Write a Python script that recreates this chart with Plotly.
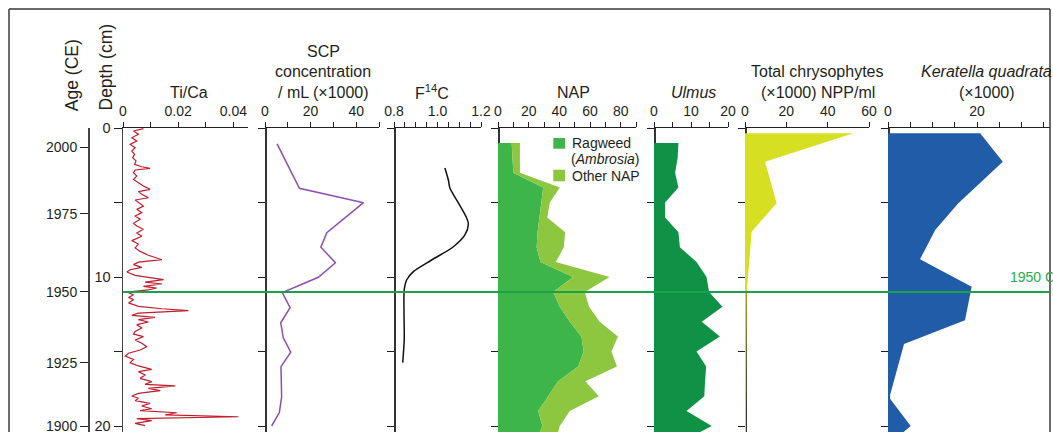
import plotly.graph_objects as go

W, H = 1053, 432
TOP = 128
PX_PER_CM = 14.9
DEPTH_MAX = (H - TOP) / PX_PER_CM
FONT = "Liberation Sans, Arial, sans-serif"
INK = "#231f20"

# ---------------- data ----------------
tica_depth = [0.04, 0.20, 0.42, 0.65, 0.87, 1.10, 1.32, 1.54, 1.77, 1.99, 2.21, 2.44, 2.60, 2.71, 2.82,
              3.00, 3.22, 3.45, 3.67, 3.89, 4.12, 4.27, 4.45, 4.68, 4.83, 5.01, 5.24, 5.46, 5.68, 5.91,
              6.13, 6.40, 6.58, 6.80, 7.05, 7.27, 7.56, 7.79, 8.05, 8.28, 8.54, 8.84, 9.00, 9.17, 9.35,
              9.51, 9.66, 9.89, 10.07, 10.18, 10.34, 10.47, 10.63, 10.74, 10.87, 11.01, 11.19, 11.37,
              11.52, 11.74, 11.97, 12.13, 12.26, 12.42, 12.57, 12.71, 12.86, 13.02, 13.20, 13.42, 13.65,
              13.83, 14.00, 14.23, 14.45, 14.68, 14.90, 15.12, 15.30, 15.53, 15.75, 15.97, 16.20, 16.35,
              16.58, 16.80, 17.02, 17.20, 17.31, 17.47, 17.63, 17.81, 17.99, 18.14, 18.30, 18.48, 18.66,
              18.84, 18.97, 19.11, 19.26, 19.38, 19.51, 19.64, 19.82, 19.98]
tica_value = [0.0074, 0.0038, 0.0056, 0.0032, 0.0050, 0.0026, 0.0044, 0.0032, 0.0042, 0.0035, 0.0047,
              0.0042, 0.0068, 0.0098, 0.0044, 0.0038, 0.0050, 0.0038, 0.0056, 0.0074, 0.0098, 0.0056,
              0.0068, 0.0092, 0.0044, 0.0056, 0.0074, 0.0050, 0.0068, 0.0044, 0.0062, 0.0038, 0.0050,
              0.0074, 0.0050, 0.0068, 0.0032, 0.0056, 0.0044, 0.0062, 0.0092, 0.0141, 0.0056, 0.0038,
              0.0068, 0.0026, 0.0014, 0.0044, 0.0104, 0.0147, 0.0080, 0.0141, 0.0074, 0.0122, 0.0092,
              0.0014, 0.0038, 0.0020, 0.0038, 0.0020, 0.0056, 0.0141, 0.0237, 0.0056, 0.0032, 0.0116,
              0.0056, 0.0092, 0.0050, 0.0068, 0.0044, 0.0038, 0.0074, 0.0044, 0.0068, 0.0086, 0.0062,
              0.0020, 0.0008, 0.0038, 0.0026, 0.0056, 0.0104, 0.0056, 0.0080, 0.0062, 0.0104, 0.0080,
              0.0189, 0.0092, 0.0135, 0.0056, 0.0032, 0.0056, 0.0044, 0.0098, 0.0068, 0.0104, 0.0062,
              0.0195, 0.0153, 0.0418, 0.0050, 0.0104, 0.0044, 0.0080]

scp_depth = [1.07, 4.05, 5.01, 7.03, 8.0, 9.04, 10.02, 11.05, 12.06, 13.07, 14.07, 15.05, 16.02, 18.03, 19.1, 20.0]
scp_value = [5.3, 15.1, 43.2, 27.1, 24.5, 30.9, 23.4, 7.6, 11.0, 6.9, 8.0, 11.3, 7.0, 7.3, 6.3, 2.9]

f14c_depth = [2.68, 3.49, 4.03, 5.03, 6.04, 6.44, 7.18, 7.97, 8.86, 9.64, 10.2, 10.87, 12.4, 14.2, 15.75]
f14c_value = [1.034, 1.050, 1.057, 1.096, 1.134, 1.142, 1.126, 1.073, 0.973, 0.889, 0.858, 0.847, 0.846, 0.847, 0.840]

pollen_depth = [1, 2, 3, 4, 5, 6, 7, 8, 9, 10, 11, 12, 13, 14, 15, 16, 17, 18, 19, 20, 20.4]
ragweed = [8.9, 9.5, 10.0, 29.5, 28.4, 26.9, 25.8, 25.2, 27.7, 49.0, 36.0, 40.3, 46.8, 54.4, 55.9, 52.3,
           39.2, 32.7, 26.2, 29.0, 27.3]
other_nap = [5.4, 4.8, 4.3, 10.8, 5.4, 5.2, 18.0, 17.7, 10.0, 23.8, 20.6, 19.1, 19.5, 23.8, 18.1, 25.3,
             17.8, 33.0, 20.6, 11.3, 11.9]
ulmus = [6.6, 6.4, 5.7, 6.6, 3.0, 3.0, 6.6, 7.0, 11.5, 14.2, 14.9, 18.5, 12.9, 17.8, 11.5, 14.1, 13.8,
         13.6, 8.8, 15.6, 12.5]

chrys_depth = [0.36, 2.26, 5.05, 6.96, 9.75, 11.1, 19.1, 20.4]
chrys_value = [52.4, 9.7, 15.3, 3.2, 1.6, 0.8, 0.5, 0.5]

kq_depth = [0.36, 2.26, 5.05, 6.85, 8.81, 10.65, 12.9, 14.5, 18.1, 20.0, 20.4]
kq_value = [20.7, 25.8, 15.8, 10.6, 7.2, 18.8, 17.3, 3.6, 0.3, 5.1, 3.5]

age_labels = [2000, 1975, 1950, 1925, 1900]
age_depths = [1.28, 5.77, 11.0, 15.77, 20.0]
marker_depth = 11.0

# ---------------- helpers ----------------
def fx(px):
    return px / W


def fy(py):
    return 1 - py / H


panels = [
    # name, left px, right px, range, minor tick step, label step, fmt
    ("x", 123, 248, [0, 0.0453], 0.01, 0.02, "{:g}"),
    ("x2", 265, 379, [0, 50], 10, 20, "{:g}"),
    ("x3", 394, 481, [0.8, 1.2], 0.05, 0.2, "{:.1f}"),
    ("x4", 498, 636, [0, 90], 10, 20, "{:g}"),
    ("x5", 654, 728, [0, 20], 5, 10, "{:g}"),
    ("x6", 745, 869, [0, 60], 20, 20, "{:g}"),
    ("x7", 888, 1050, [0, 36.4], 5, 20, "{:g}"),
]

fig = go.Figure()
layout = dict(
    width=W, height=H, autosize=False,
    margin=dict(l=0, r=0, t=0, b=0, pad=0),
    paper_bgcolor="white", plot_bgcolor="white",
    showlegend=False,
    font=dict(family=FONT, color=INK, size=14),
)

yr = [DEPTH_MAX, 0]
ydom = [0, fy(TOP)]

for name, l, r, rng, step, lstep, fmt in panels:
    lo, hi = rng
    n = int(round((hi - lo) / step + 1e-9))
    major_v, major_t, minor_v = [], [], []
    for i in range(n + 1):
        v = round(lo + i * step, 6)
        if v > hi + 1e-9:
            break
        k = (v - lo) / lstep
        if abs(k - round(k)) < 1e-6:
            major_v.append(v)
            major_t.append(fmt.format(v))
        else:
            minor_v.append(v)
    key = "xaxis" if name == "x" else "xaxis" + name[1:]
    layout[key] = dict(
        domain=[fx(l), fx(r)], range=rng, anchor="y", side="top", automargin=False,
        showline=True, linecolor=INK, linewidth=1.3,
        ticks="outside", ticklen=5, tickwidth=1, tickcolor=INK, tickangle=0,
        ticklabeloverflow="allow",
        tickvals=major_v, ticktext=major_t, tickfont=dict(size=14, family=FONT, color=INK),
        minor=dict(tickvals=minor_v, ticks="outside", ticklen=5, tickwidth=1, tickcolor=INK, showgrid=False),
        showgrid=False, zeroline=False, fixedrange=True,
    )

# depth axis
layout["yaxis"] = dict(
    domain=ydom, range=yr, anchor="x", side="left", automargin=False,
    showline=True, linecolor="#444", linewidth=1.5,
    ticks="outside", ticklen=8, tickwidth=1, tickcolor=INK, tickangle=0,
    ticklabeloverflow="allow",
    tickvals=[0, 10, 20], ticktext=["0", "10", "20"],
    minor=dict(tickvals=[5, 15], ticks="outside", ticklen=8, tickwidth=1, tickcolor=INK, showgrid=False),
    tickfont=dict(size=14.5, family=FONT, color=INK),
    showgrid=False, zeroline=False, fixedrange=True,
)

# panel spines
spines = [265, 394, 498, 654, 745, 888]
for i, px in enumerate(spines):
    layout["yaxis%d" % (i + 2)] = dict(
        domain=ydom, range=yr, anchor="free", overlaying="y", position=fx(px), side="left",
        automargin=False,
        showline=True, linecolor="#333", linewidth=1.5,
        ticks="outside", ticklen=7, tickwidth=1, tickcolor=INK,
        tickvals=[0, 5, 10, 15, 20], showticklabels=False,
        showgrid=False, zeroline=False, fixedrange=True,
    )

# age axis
layout["yaxis8"] = dict(
    domain=ydom, range=yr, anchor="free", overlaying="y", position=fx(88), side="left",
    automargin=False,
    showline=True, linecolor="#444", linewidth=1.5,
    ticks="outside", ticklen=8, tickwidth=1, tickcolor=INK, tickangle=0,
    ticklabeloverflow="allow",
    tickvals=age_depths, ticktext=[str(a) for a in age_labels],
    tickfont=dict(size=14, family=FONT, color=INK),
    showgrid=False, zeroline=False, fixedrange=True,
)

fig.update_layout(**layout)

# invisible helper traces so every overlaying y axis gets its own subplot
for i in range(2, 9):
    fig.add_trace(go.Scatter(x=[None], y=[None], xaxis="x", yaxis="y%d" % i, mode="lines",
                             hoverinfo="skip", showlegend=False))

# ---------------- traces ----------------
fig.add_trace(go.Scatter(x=tica_value, y=tica_depth, xaxis="x", yaxis="y", mode="lines",
                         line=dict(color="#be1e2d", width=1.2)))
fig.add_trace(go.Scatter(x=scp_value, y=scp_depth, xaxis="x2", yaxis="y", mode="lines",
                         line=dict(color="#8e4fb0", width=1.5)))
fig.add_trace(go.Scatter(x=f14c_value, y=f14c_depth, xaxis="x3", yaxis="y", mode="lines",
                         line=dict(color="#111111", width=1.5, shape="spline", smoothing=0.8)))
fig.add_trace(go.Scatter(x=ragweed, y=pollen_depth, xaxis="x4", yaxis="y", mode="lines",
                         stackgroup="nap", orientation="h", fill="tozerox",
                         fillcolor="#3db54a", line=dict(width=0, color="#3db54a")))
fig.add_trace(go.Scatter(x=other_nap, y=pollen_depth, xaxis="x4", yaxis="y", mode="lines",
                         stackgroup="nap", fill="tonextx",
                         fillcolor="#8dc63f", line=dict(width=0, color="#8dc63f")))
fig.add_trace(go.Scatter(x=ulmus, y=pollen_depth, xaxis="x5", yaxis="y", mode="lines",
                         fill="tozerox", fillcolor="#0f9246", line=dict(width=0, color="#0f9246")))
fig.add_trace(go.Scatter(x=chrys_value, y=chrys_depth, xaxis="x6", yaxis="y", mode="lines",
                         fill="tozerox", fillcolor="#d7df23", line=dict(width=0, color="#d7df23")))
fig.add_trace(go.Scatter(x=kq_value, y=kq_depth, xaxis="x7", yaxis="y", mode="lines",
                         fill="tozerox", fillcolor="#215ca8", line=dict(width=0, color="#215ca8")))

# ---------------- shapes ----------------
shapes = []
frame = dict(type="line", xref="paper", yref="paper", line=dict(color="#3a3a3a", width=1.5), layer="above")
shapes.append(dict(frame, x0=fx(9), x1=fx(9), y0=fy(9), y1=fy(H + 5)))
shapes.append(dict(frame, x0=fx(9), x1=fx(1050), y0=fy(9), y1=fy(9)))
shapes.append(dict(frame, x0=fx(1050), x1=fx(1050), y0=fy(9), y1=fy(H + 5)))
shapes.append(dict(type="line", xref="paper", yref="y", x0=fx(123), x1=fx(1050),
                   y0=marker_depth, y1=marker_depth, line=dict(color="#1aa14b", width=2), layer="above"))
# legend swatches
shapes.append(dict(type="rect", xref="paper", yref="paper", x0=fx(553.3), x1=fx(565),
                   y0=fy(148.7), y1=fy(138), fillcolor="#3db54a", line=dict(width=0), layer="above"))
shapes.append(dict(type="rect", xref="paper", yref="paper", x0=fx(553.3), x1=fx(565),
                   y0=fy(181.3), y1=fy(169.7), fillcolor="#8dc63f", line=dict(width=0), layer="above"))
fig.update_layout(shapes=shapes)

# ---------------- annotations ----------------
ann = []


def text(t, x, y, size=16, xanchor="center", color=INK, angle=0):
    ann.append(dict(text=t, x=fx(x), y=fy(y), xref="paper", yref="paper", showarrow=False,
                    xanchor=xanchor, yanchor="middle", textangle=angle,
                    font=dict(family=FONT, size=size, color=color)))


text("Age (CE)", 72.7, 75.5, size=17.5, angle=-90)
text("Depth (cm)", 105, 67.5, size=17.5, angle=-90)
text("Ti/Ca", 189, 92)
text("SCP", 323, 52)
text("concentration", 323, 72)
text("/ mL (\u00d71000)", 323, 92)
text("F<sup>14</sup>C", 432, 92)
text("NAP", 573, 92)
text("<i>Ulmus</i>", 693, 92)
text("Total chrysophytes", 817, 72)
text("(\u00d71000) NPP/ml", 818, 92)
text("<i>Keratella quadrata</i>", 986, 72)
text("(\u00d71000)", 986.5, 92)
text("Ragweed", 569.5, 143, size=14, xanchor="left")
text("(<i>Ambrosia</i>)", 568.7, 159, size=14, xanchor="left")
text("Other NAP", 569.5, 175.7, size=14, xanchor="left")
ann.append(dict(text="1950 C", x=fx(1008), y=marker_depth, xref="paper", yref="y", showarrow=False,
                xanchor="left", yanchor="middle", yshift=15,
                font=dict(family=FONT, size=14, color="#22b04b")))
fig.update_layout(annotations=ann)

fig.write_html("out.html", config={"displayModeBar": False, "staticPlot": True},
               post_script="document.body.style.margin='0';")
